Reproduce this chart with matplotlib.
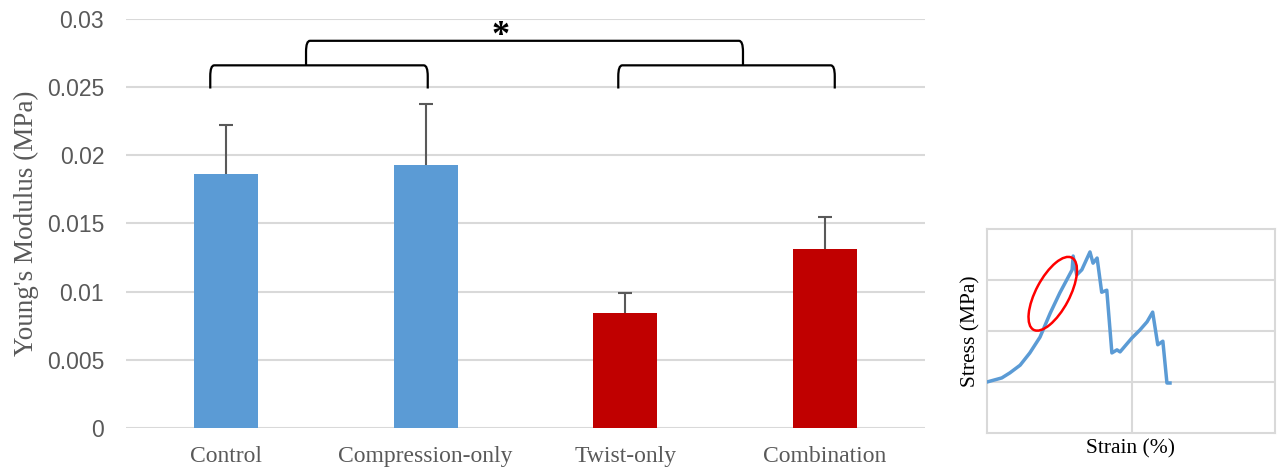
import matplotlib.pyplot as plt
import numpy as np
from matplotlib.path import Path
from matplotlib.patches import PathPatch, Ellipse

# bar chart data
groups = ["Control", "Compression-only", "Twist-only", "Combination"]
modulus = [0.0186, 0.0193, 0.00845, 0.0131]
err_up = [0.0036, 0.0045, 0.00145, 0.0024]
colors = ["#5B9BD5", "#5B9BD5", "#C00000", "#C00000"]

# inset stress-strain curve (arbitrary units)
strain = [0, 0.29, 0.45, 0.65, 0.84, 1.04, 1.24, 1.43, 1.67, 1.69, 1.76, 1.86,
          2.02, 2.08, 2.16, 2.25, 2.35, 2.45, 2.55, 2.61, 2.84, 3.0, 3.14,
          3.25, 3.35, 3.45, 3.53, 3.59]
stress = [1.0, 1.08, 1.18, 1.33, 1.57, 1.88, 2.35, 2.75, 3.2, 3.47, 3.1, 3.2,
          3.55, 3.33, 3.43, 2.76, 2.8, 1.57, 1.63, 1.59, 1.86, 2.02, 2.18,
          2.37, 1.73, 1.8, 0.98, 0.98]

grid_c = "#d9d9d9"
text_c = "#595959"

fig = plt.figure(figsize=(12.8, 4.7), dpi=100)
ax = fig.add_axes([0.0988, 0.0894, 0.6235, 0.8702])

x = np.arange(len(groups))
ax.bar(x, modulus, width=0.32, color=colors, zorder=3)
eb = ax.errorbar(x, modulus, yerr=[np.zeros(len(err_up)), err_up], fmt='none',
                 ecolor=text_c, elinewidth=1.5, capsize=5, capthick=1.5, zorder=4)
eb[1][0].set_visible(False)  # hide lower caps

ax.set_xlim(-0.5, 3.5)
ax.set_ylim(0, 0.03)
ax.set_yticks([0, 0.005, 0.01, 0.015, 0.02, 0.025, 0.03])
ax.set_yticklabels(["0", "0.005", "0.01", "0.015", "0.02", "0.025", "0.03"],
                   fontsize=16.5, color=text_c, family="Liberation Sans")
ax.set_xticks(x)
ax.set_xticklabels(groups, fontsize=17, color=text_c, family="Liberation Serif")
ax.tick_params(axis="y", length=0, pad=16)
ax.tick_params(axis="x", length=0, pad=13)
ax.yaxis.grid(True, color=grid_c, lw=1.5, zorder=0)
for s in ax.spines.values():
    s.set_visible(False)
ax.set_ylabel("Young's Modulus (MPa)", fontsize=19.5, color=text_c,
              family="Liberation Serif", labelpad=6)


def bracket(x0, x1, ylo, yhi, dx=0.02, dy=0.0008):
    verts = [(x0, ylo), (x0, yhi - dy), (x0, yhi), (x0 + dx, yhi),
             (x1 - dx, yhi), (x1, yhi), (x1, yhi - dy), (x1, ylo)]
    codes = [Path.MOVETO, Path.LINETO, Path.CURVE3, Path.CURVE3,
             Path.LINETO, Path.CURVE3, Path.CURVE3, Path.LINETO]
    ax.add_patch(PathPatch(Path(verts, codes), fill=False, lw=1.6,
                           edgecolor="black", zorder=5, clip_on=False))


bracket(-0.08, 1.01, 0.0249, 0.0266)
bracket(1.965, 3.05, 0.0249, 0.0266)
bracket(0.40, 2.59, 0.0266, 0.0284)
ax.text(1.375, 0.02875, "*", ha="center", va="center", fontsize=26,
        family="Liberation Serif", fontweight="bold")

# inset stress-strain plot
ins = fig.add_axes([987 / 1280, 1 - 433 / 470, 288 / 1280, 204 / 470])
ins.plot(strain, stress, color="#5B9BD5", lw=2.5, zorder=3)
ins.add_patch(Ellipse((1.29, 2.73), 1.6, 0.66, angle=62, fill=False,
                      edgecolor="#FF0000", lw=1.8, zorder=4))
ins.set_xlim(0, 5.65)
ins.set_ylim(0, 4)
ins.set_xticks([2.84])
ins.set_yticks([1, 2, 3])
ins.set_xticklabels([])
ins.set_yticklabels([])
ins.tick_params(length=0)
ins.grid(True, color=grid_c, lw=1.5, zorder=0)
for s in ins.spines.values():
    s.set_color(grid_c)
    s.set_linewidth(1.5)
ins.set_xlabel("Strain (%)", fontsize=15.5, family="Liberation Serif", labelpad=1)
ins.set_ylabel("Stress (MPa)", fontsize=15.5, family="Liberation Serif", labelpad=1)

fig.savefig("out.png", dpi=100)
